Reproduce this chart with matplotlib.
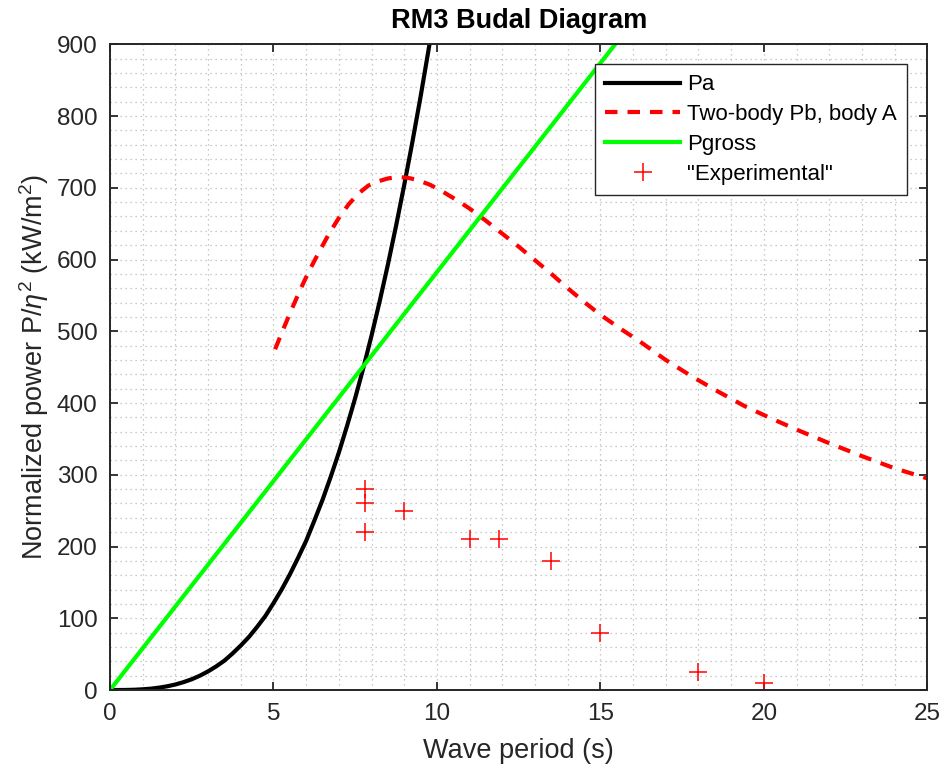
import numpy as np
import matplotlib
matplotlib.use('Agg')
import matplotlib.pyplot as plt
from matplotlib.ticker import MultipleLocator

plt.rcParams['font.family'] = ['Liberation Sans', 'DejaVu Sans']
plt.rcParams['mathtext.fontset'] = 'custom'
plt.rcParams['mathtext.rm'] = 'Liberation Sans'
plt.rcParams['mathtext.it'] = 'Liberation Sans:italic'

# Pa (black)
pa_T = [0, 0.25, 0.5, 0.75, 1, 1.25, 1.5, 1.75, 2, 2.25, 2.5, 2.75, 3, 3.25, 3.5, 3.75,
        4, 4.25, 4.5, 4.75, 5, 5.25, 5.5, 5.75, 6, 6.25, 6.5, 6.75, 7, 7.25, 7.5, 7.75,
        8, 8.25, 8.5, 8.75, 9, 9.25, 9.5, 9.75, 9.8]
pa_P = [0, 0, 0.1, 0.4, 1, 1.9, 3.3, 5.2, 7.7, 11, 15, 20, 26, 33, 41, 51,
        62, 74, 88, 103, 121, 140, 161, 184, 208, 236, 265, 297, 331, 368, 407, 449,
        494, 542, 593, 647, 704, 764, 827, 894, 908]

# Two-body Pb, body A (red dashed)
pb_T = [5.05, 5.3, 5.55, 5.85, 6.1, 6.4, 6.7, 7.0, 7.3, 7.6, 7.9, 8.2, 8.5, 8.8,
        9.1, 9.4, 9.8, 10.2, 10.6, 11.0, 11.5, 12.0, 12.5, 13.0, 13.5, 14.0, 14.5,
        15.0, 15.6, 16.2, 17.0, 17.8, 18.6, 19.4, 20.2, 21.0, 22.0, 23.0, 24.0, 25.0]
pb_P = [475, 503, 530, 561, 585, 611, 636, 658, 677, 692, 703, 709, 713, 715,
        714, 711, 704, 694, 683, 671, 654, 636, 618, 599, 580, 560, 541,
        523, 504, 486, 460, 437, 416, 396, 379, 363, 344, 326, 309, 295]

# Pgross (green)
pg_T = [0, 15.45]
pg_P = [0, 900]

# "Experimental" points
exp_T = [7.8, 7.8, 7.8, 9.0, 11.0, 11.9, 13.5, 15.0, 18.0, 20.0]
exp_P = [280, 260, 220, 250, 210, 210, 180, 80, 25, 10]

fig = plt.figure(figsize=(9.45, 7.69), dpi=100)
ax = fig.add_axes([0.1164, 0.1027, 0.8649, 0.8397])

ax.plot(pa_T, pa_P, color='black', lw=3, label='Pa')
ax.plot(pb_T, pb_P, color='red', lw=3, ls=(0, (3.0, 2.4)), label='Two-body Pb, body A')
ax.plot(pg_T, pg_P, color='#00ff00', lw=3, label='Pgross')
ax.plot(exp_T, exp_P, ls='none', marker='+', color='red', ms=13, mew=1.1,
        label='"Experimental"')

ax.set_xlim(0, 25)
ax.set_ylim(0, 900)
ax.xaxis.set_major_locator(MultipleLocator(5))
ax.yaxis.set_major_locator(MultipleLocator(100))
ax.xaxis.set_minor_locator(MultipleLocator(1))
ax.yaxis.set_minor_locator(MultipleLocator(20))
ax.grid(True, which='both', ls=(0, (1, 3)), color='#b8b8b8', lw=0.9)
ax.set_axisbelow(True)

ax.tick_params(which='major', direction='in', top=True, right=True, length=6,
               width=1.3, color='#262626', labelsize=17.5, labelcolor='#262626', pad=9)
ax.tick_params(which='minor', length=0)
for s in ax.spines.values():
    s.set_color('#262626')
    s.set_linewidth(1.4)

ax.set_xlabel('Wave period (s)', fontsize=19.5, color='#262626', labelpad=10)
ax.set_ylabel(r'Normalized power P/$\eta^2$ (kW/m$^2$)', fontsize=19.5, color='#262626', labelpad=4)
ax.set_title('RM3 Budal Diagram', fontsize=19.5, fontweight='bold', pad=12)

leg = ax.legend(loc='upper right', bbox_to_anchor=(0.975, 0.969), borderaxespad=0,
                fontsize=16, fancybox=False, framealpha=1, edgecolor='#262626',
                handlelength=3.4, handletextpad=0.3, labelspacing=0.4, borderpad=0.45)
leg.get_frame().set_linewidth(1.0)

fig.savefig('out.png', dpi=100)
